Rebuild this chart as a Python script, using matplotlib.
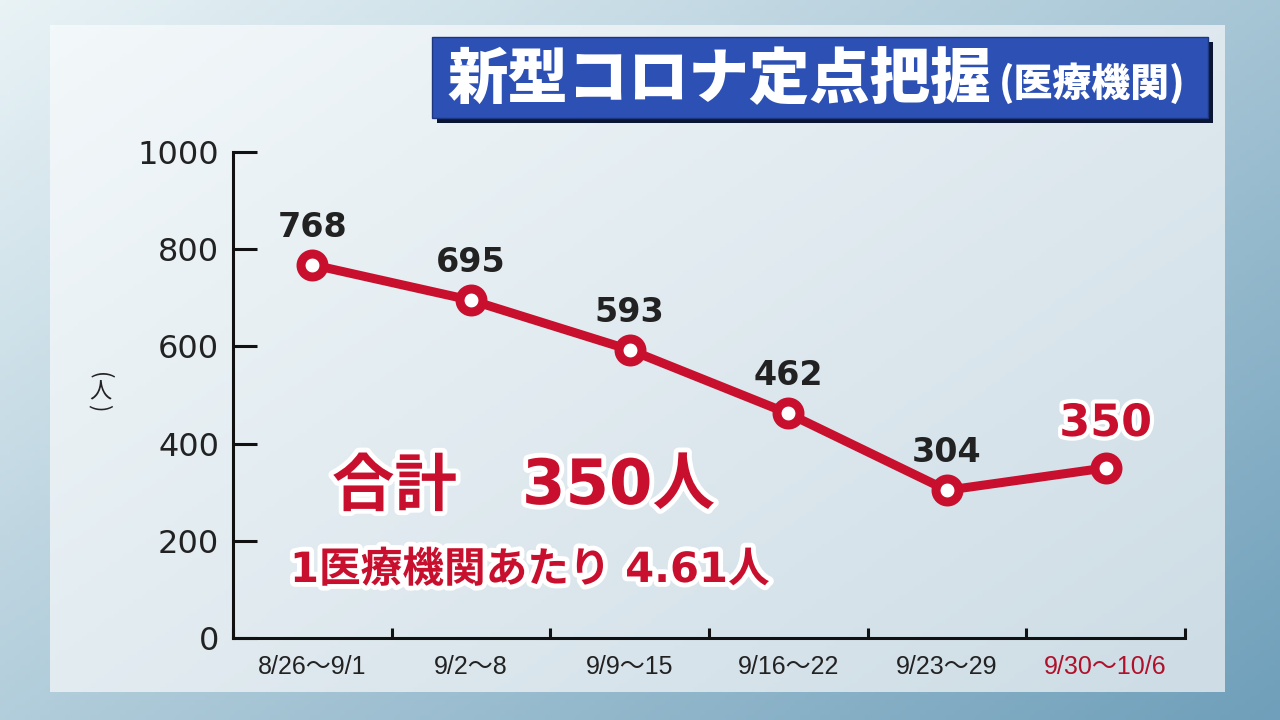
import numpy as np
import matplotlib.pyplot as plt
import matplotlib.patheffects as pe
from matplotlib.patches import Rectangle
from matplotlib.colors import to_rgb

plt.rcParams['font.family'] = ['Noto Sans CJK JP', 'DejaVu Sans']

# data
weeks = ['8/26～9/1', '9/2～8', '9/9～15', '9/16～22', '9/23～29', '9/30～10/6']
patients = [768, 695, 593, 462, 304, 350]
title_main = '新型コロナ定点把握'
title_sub = '(医療機関)'
total_label = '合計'
total_value = '350人'
per_site = '1医療機関あたり 4.61人'

RED = '#c8102e'
DARK = '#222222'
MIXED = ['Liberation Sans', 'Noto Sans CJK JP']
WIDE = ['DejaVu Sans', 'Noto Sans CJK JP']


def gradient(c0, c1, w, h, wx=0.55):
    x = np.linspace(0, 1, w)[None, :]
    y = np.linspace(0, 1, h)[:, None]
    t = wx * x + (1 - wx) * y
    a, b = np.array(to_rgb(c0)), np.array(to_rgb(c1))
    return a[None, None, :] * (1 - t[..., None]) + b[None, None, :] * t[..., None]


fig = plt.figure(figsize=(12.8, 7.2), dpi=100)

# background in pixel coordinates
bg = fig.add_axes([0, 0, 1, 1])
bg.axis('off')
bg.imshow(gradient('#e9f3f6', '#6f9fba', 256, 144), extent=[0, 1280, 720, 0],
          aspect='auto', zorder=0)
bg.imshow(gradient('#f3f8fa', '#cddce5', 256, 144), extent=[50, 1225, 692, 25],
          aspect='auto', zorder=1)
bg.set_xlim(0, 1280)
bg.set_ylim(720, 0)

# title box
bg.add_patch(Rectangle((437, 42), 776, 81, facecolor='#0b1634', edgecolor='none', zorder=2))
bg.add_patch(Rectangle((432, 37), 776, 81, facecolor='#2c50b4', edgecolor='#1d3680',
                       linewidth=1, zorder=3))
bg.text(447, 80, title_main, color='white', fontsize=43.5, fontweight='black',
        ha='left', va='center', zorder=4)
bg.text(999, 83, title_sub, color='white', fontsize=28, fontweight='black',
        ha='left', va='center', zorder=4)

# y label (vertical writing: rotated parentheses)
bg.text(100, 376, '(', fontsize=16, color=DARK, ha='center', va='center',
        rotation=-90, zorder=4)
bg.text(100, 392, '人', fontsize=16, color=DARK, ha='center', va='center', zorder=4)
bg.text(100, 408, ')', fontsize=16, color=DARK, ha='center', va='center',
        rotation=-90, zorder=4)

# main chart
ax = fig.add_axes([233 / 1280, 1 - 638 / 720, (1185 - 233) / 1280, (638 - 152) / 720])
ax.patch.set_alpha(0)
x = np.arange(len(weeks))
ax.plot(x, patients, color=RED, linewidth=6.5, marker='o', markersize=16.5,
        markerfacecolor='white', markeredgecolor=RED, markeredgewidth=6.5,
        solid_capstyle='round', zorder=5, clip_on=False)

for i, v in enumerate(patients):
    if i == len(patients) - 1:
        ax.annotate(str(v), (i, v), xytext=(0, 32), textcoords='offset points',
                    ha='center', va='center', fontsize=32, fontweight='bold',
                    color=RED, family='DejaVu Sans',
                    path_effects=[pe.withStroke(linewidth=6, foreground='white')])
    else:
        ax.annotate(str(v), (i, v), xytext=(0, 27), textcoords='offset points',
                    ha='center', va='center', fontsize=24, fontweight='bold',
                    color=DARK, family='DejaVu Sans')

ax.set_xlim(-0.5, len(weeks) - 0.5)
ax.set_ylim(0, 1000)
for s in ['top', 'right']:
    ax.spines[s].set_visible(False)
for s in ['left', 'bottom']:
    ax.spines[s].set_linewidth(2.2)
    ax.spines[s].set_color('#111111')

ax.set_yticks(range(0, 1001, 200))
ax.tick_params(axis='y', direction='in', length=17, width=2.2, color='#111111',
               labelsize=23, pad=10, labelcolor=DARK)
for lab in ax.get_yticklabels():
    lab.set_family('DejaVu Sans')

ax.set_xticks(np.arange(-0.5, len(weeks)), labels=[])
ax.set_xticks(x, labels=weeks, minor=True)
ax.tick_params(axis='x', which='major', direction='in', length=7, width=2.2, color='#111111')
ax.tick_params(axis='x', which='minor', length=0, labelsize=18, pad=12, labelcolor=DARK)
for lab in ax.get_xticklabels(minor=True):
    lab.set_family(MIXED)
ax.get_xticklabels(minor=True)[-1].set_color('#b0102a')

# totals
stroke = [pe.withStroke(linewidth=7, foreground='white')]
bg.text(332, 487, total_label, color=RED, fontsize=45, fontweight='bold',
        ha='left', va='center', zorder=6, path_effects=stroke)
bg.text(522, 487, total_value, color=RED, fontsize=45, fontweight='bold',
        family=WIDE, ha='left', va='center', zorder=6, path_effects=stroke)
bg.text(290, 570, per_site, color=RED, fontsize=30, fontweight='bold',
        family=WIDE, ha='left', va='center', zorder=6, path_effects=stroke)

fig.savefig('out.png', dpi=100)
